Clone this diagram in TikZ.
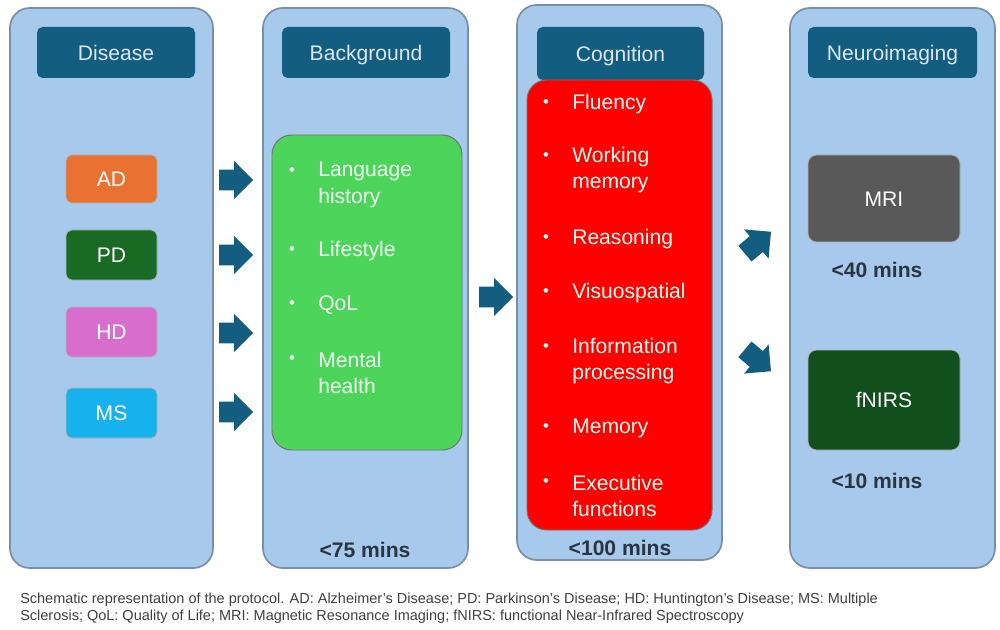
\documentclass[tikz,border=0pt]{standalone}
\usepackage{fontspec}
\setmainfont{Liberation Sans}
\usetikzlibrary{fit,shapes.arrows}
\definecolor{panelfill}{HTML}{A6C9EC}
\definecolor{paneldraw}{HTML}{7A8FA6}
\definecolor{hdr}{HTML}{135E80}
\definecolor{hdrtext}{HTML}{DCE6EE}
\definecolor{adc}{HTML}{E97132}
\definecolor{pdc}{HTML}{196B24}
\definecolor{hdc}{HTML}{D86ECC}
\definecolor{msc}{HTML}{17B2EE}
\definecolor{greenbox}{HTML}{4CD45B}
\definecolor{mric}{HTML}{595959}
\definecolor{fnirsc}{HTML}{11501C}
\definecolor{captc}{HTML}{404040}
\definecolor{minsc}{HTML}{2B3540}
\tikzset{
  panel/.style={draw=paneldraw, line width=1.2pt, fill=panelfill, rounded corners=14pt, inner sep=0pt},
  hdrbox/.style={fill=hdr, rounded corners=4pt, inner sep=0pt},
  lbl/.style={text=white, inner sep=0pt, anchor=center, text height=10.7pt, text depth=0pt, font=\fontsize{15}{18}\selectfont},
  hlbl/.style={lbl, text=hdrtext},
  item/.style={draw=white!70!black, line width=0.6pt, rounded corners=4pt, inner sep=0pt},
  bigbox/.style={rounded corners=14pt, inner sep=0pt, draw=black!55, line width=0.7pt},
  btxt/.style={anchor=west, text=white!94!green, align=left, inner sep=0pt, font=\fontsize{15}{19}\selectfont},
  bul/.style={text=white!94!green, inner sep=0pt, font=\fontsize{12}{14}\selectfont},
  blk/.style={single arrow, fill=hdr, draw=none, minimum height=34*0.025cm, inner sep=0pt, single arrow head extend=0.22cm, single arrow tip angle=90},
  mins/.style={text=minsc, inner sep=0pt, font=\bfseries\fontsize{15}{18}\selectfont},
}
\newcommand{\shaft}{\rule{0pt}{0.5cm}}
\begin{document}
\begin{tikzpicture}[x=0.025cm,y=-0.025cm]
\useasboundingbox (0,0) rectangle (1000,630);
\fill[white] (0,0) rectangle (1000,630);
% panels
\node[panel, fit={(10,8)(213,568)}] (p1) {};
\node[panel, fit={(263,8)(468,568)}] (p2) {};
\node[panel, fit={(517,5)(722,560)}] (p3) {};
\node[panel, fit={(790,8)(995,568)}] (p4) {};
% headers
\node[hdrbox, fit={(37,27)(195,78)}] (h1) {};
\node[hlbl] (h1t) at (h1.center) {Disease};
\node[hdrbox, fit={(282,27)(450,78)}] (h2) {};
\node[hlbl] (h2t) at (h2.center) {Background};
\node[hdrbox, fit={(537,27)(704,80)}] (h3) {};
\node[hlbl] (h3t) at (h3.center) {Cognition};
\node[hdrbox, fit={(808,27)(977,78)}] (h4) {};
\node[hlbl] (h4t) at (h4.center) {Neuroimaging};
% disease items
\node[item, fill=adc, fit={(66,155)(157,203)}] (ad) {};
\node[lbl] (adt) at (ad.center) {AD};
\node[item, fill=pdc, fit={(66,230)(157,280)}] (pd) {};
\node[lbl] (pdt) at (pd.center) {PD};
\node[item, fill=hdc, fit={(66,307)(157,357)}] (hd) {};
\node[lbl] (hdt) at (hd.center) {HD};
\node[item, fill=msc, fit={(66,388)(157,438)}] (ms) {};
\node[lbl] (mst) at (ms.center) {MS};
% arrows disease -> background
\node[blk] (a1) at (231,180) {\shaft};
\node[blk] (a2) at (231,255) {\shaft};
\node[blk] (a3) at (231,333) {\shaft};
\node[blk] (a4) at (231,412) {\shaft};
% background box
\node[bigbox, fill=greenbox, fit={(272,135)(462,450)}] (bg) {};
\node[bul] (b1) at (292,172) {•};
\node[btxt] (t1) at (318,185) {Language\\history};
\node[bul] (b2) at (292,251) {•};
\node[btxt] (t2) at (318,251) {Lifestyle};
\node[bul] (b3) at (292,305) {•};
\node[btxt] (t3) at (318,305) {QoL};
\node[bul] (b4) at (292,360) {•};
\node[btxt] (t4) at (318,373) {Mental\\health};
% arrow background -> cognition
\node[blk] (a5) at (491,297) {\shaft};
% cognition box
\node[bigbox, fill=red, fit={(527,80)(712,530)}] (cg) {};
\node[bul] (c1) at (546,104) {•};
\node[btxt] (u1) at (572,104) {Fluency};
\node[bul] (c2) at (546,157) {•};
\node[btxt] (u2) at (572,170) {Working\\memory};
\node[bul] (c3) at (546,239) {•};
\node[btxt] (u3) at (572,239) {Reasoning};
\node[bul] (c4) at (546,293) {•};
\node[btxt] (u4) at (572,293) {Visuospatial};
\node[bul] (c5) at (546,348) {•};
\node[btxt] (u5) at (572,361) {Information\\processing};
\node[bul] (c6) at (546,428) {•};
\node[btxt] (u6) at (572,428) {Memory};
\node[bul] (c7) at (546,483) {•};
\node[btxt] (u7) at (572,496) {Executive\\functions};
% times
\node[mins] (m1) at (365,550) {<75 mins};
\node[mins] (m2) at (620,548) {<100 mins};
% diagonal arrows
\node[blk, rotate=40] (a6) at (754,246) {\shaft};
\node[blk, rotate=-40] (a7) at (754,357) {\shaft};
% neuroimaging
\node[item, fill=mric, rounded corners=6pt, fit={(808,155)(960,242)}] (mri) {};
\node[lbl] (mrit) at (mri.center) {MRI};
\node[mins] (m3) at (877,270) {<40 mins};
\node[item, fill=fnirsc, rounded corners=6pt, fit={(808,350)(960,450)}] (fn) {};
\node[lbl] (fnt) at (fn.center) {fNIRS};
\node[mins] (m4) at (877,481) {<10 mins};
% caption
\node[anchor=north west, align=left, text=captc, inner sep=0pt, font=\fontsize{10.3}{12.2}\selectfont] (cap) at (20,593) {Schematic representation of the protocol. AD: Alzheimer's Disease; PD: Parkinson's Disease; HD: Huntington's Disease; MS: Multiple\\Sclerosis; QoL: Quality of Life; MRI: Magnetic Resonance Imaging; fNIRS: functional Near-Infrared Spectroscopy};
\end{tikzpicture}
\end{document}
